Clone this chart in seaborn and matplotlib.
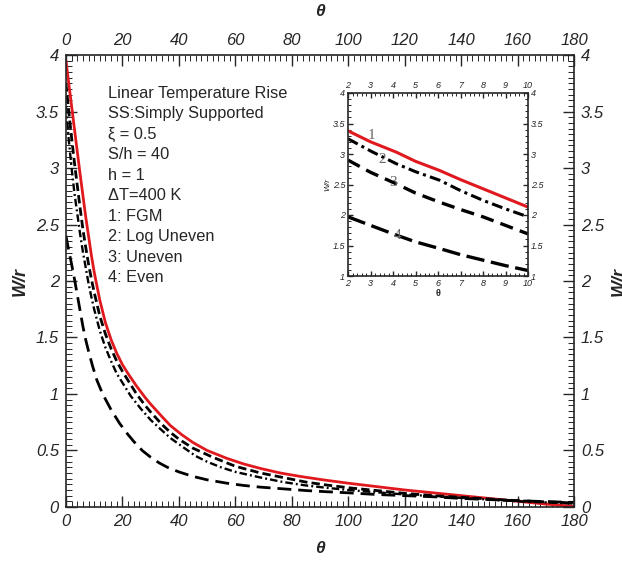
import matplotlib
matplotlib.use("Agg")
import matplotlib.pyplot as plt
from matplotlib.ticker import MultipleLocator
import pandas as pd
import seaborn as sns

# Main plot data (theta, W/r)
theta_fgm = [0, 1, 2, 3, 4, 5, 6, 7, 8, 9, 10, 12, 14, 16, 18, 20, 22, 25, 28, 30, 34, 37, 41,
             45, 50, 57, 63, 69, 76, 83, 91, 100, 110, 120, 130, 140, 150, 160, 170, 180]
w_fgm = [3.95, 3.75, 3.55, 3.35, 3.15, 2.95, 2.76, 2.57, 2.4, 2.23, 2.08, 1.83, 1.63, 1.48, 1.36,
         1.26, 1.18, 1.07, 0.97, 0.91, 0.8, 0.72, 0.64, 0.57, 0.5, 0.43, 0.38, 0.34, 0.3, 0.27,
         0.24, 0.21, 0.18, 0.15, 0.125, 0.1, 0.075, 0.05, 0.025, 0.005]

theta_dash = [0, 1, 2, 3, 4, 5, 6, 7, 8, 9, 10, 12, 14, 16, 18, 20, 22, 25, 28, 30, 34, 37, 40,
              45, 52, 60, 69, 77, 85, 92, 100, 110, 120, 130, 140, 150, 160, 170, 180]
w_dash = [3.75, 3.5, 3.27, 3.05, 2.85, 2.65, 2.46, 2.3, 2.15, 2.02, 1.9, 1.69, 1.53, 1.4, 1.29,
          1.2, 1.12, 1.0, 0.9, 0.84, 0.73, 0.66, 0.6, 0.52, 0.44, 0.36, 0.3, 0.26, 0.22, 0.195,
          0.17, 0.145, 0.12, 0.1, 0.085, 0.07, 0.055, 0.045, 0.035]

theta_dashdot = [0, 1, 2, 3, 4, 5, 6, 7, 8, 9, 10, 12, 14, 16, 18, 20, 23, 26.5, 30, 33, 37, 42,
                 46, 50, 55, 60, 69, 77, 85, 92, 100, 110, 120, 130, 140, 150, 160, 170, 180]
w_dashdot = [3.55, 3.25, 3.0, 2.78, 2.6, 2.42, 2.26, 2.12, 1.98, 1.86, 1.75, 1.56, 1.41, 1.29,
             1.18, 1.1, 0.98, 0.87, 0.77, 0.7, 0.61, 0.52, 0.45, 0.4, 0.35, 0.31, 0.26, 0.22,
             0.19, 0.17, 0.15, 0.13, 0.11, 0.095, 0.08, 0.065, 0.05, 0.04, 0.03]

theta_long = [0, 1, 2, 3, 4, 5, 6, 7, 8, 9.4, 11, 13, 16, 19, 22, 24, 27, 30, 33, 36, 40, 45,
              50, 57, 63, 69, 77, 85, 92, 100, 110, 120, 130, 140, 150, 160, 170, 180]
w_long = [2.4, 2.27, 2.15, 2.02, 1.88, 1.74, 1.6, 1.48, 1.38, 1.25, 1.12, 1.0, 0.86, 0.74, 0.64,
          0.58, 0.5, 0.44, 0.39, 0.35, 0.31, 0.27, 0.24, 0.21, 0.19, 0.175, 0.16, 0.145, 0.135,
          0.125, 0.11, 0.1, 0.09, 0.075, 0.065, 0.055, 0.047, 0.04]

# Inset data (theta 2..10)
theta_inset = [2, 3, 4.15, 5, 6.07, 7, 8, 9, 10]
w_in_fgm = [3.38, 3.2, 3.03, 2.88, 2.73, 2.58, 2.43, 2.28, 2.13]
w_in_log = [3.25, 3.05, 2.84, 2.71, 2.57, 2.4, 2.24, 2.1, 1.97]
w_in_uneven = [2.9, 2.7, 2.51, 2.36, 2.21, 2.09, 1.97, 1.83, 1.69]
w_in_even = [1.97, 1.83, 1.67, 1.56, 1.45, 1.35, 1.26, 1.17, 1.09]

annotation_lines = [
    "Linear Temperature Rise",
    "SS:Simply Supported",
    "\u03be = 0.5",
    "S/h = 40",
    "h = 1",
    "\u0394T=400 K",
    "1: FGM",
    "2: Log Uneven",
    "3: Uneven",
    "4: Even",
]

sns.set_style("ticks")
plt.rcParams["font.family"] = ["Liberation Sans", "DejaVu Sans"]

RED = "#e0191f"
MAIN_STYLES = {
    "fgm": dict(color=RED, linestyle="-", linewidth=2.0),
    "dash": dict(color="black", linestyle=(0, (3.0, 1.5)), linewidth=2.0),
    "dashdot": dict(color="black", linestyle=(0, (3.2, 1.3, 0.8, 1.3)), linewidth=1.7),
    "long": dict(color="black", linestyle=(0, (5.0, 2.5)), linewidth=2.0),
}
INSET_STYLES = {
    "fgm": dict(color=RED, linestyle="-", linewidth=2.2),
    "dash": dict(color="black", linestyle=(0, (4.0, 2.2)), linewidth=2.4),
    "dashdot": dict(color="black", linestyle=(0, (3.6, 1.4, 1.0, 1.4)), linewidth=2.2),
    "long": dict(color="black", linestyle=(0, (5.5, 2.0)), linewidth=2.4),
}


def draw(ax, x, y, style):
    df = pd.DataFrame({"theta": x, "w": y})
    sns.lineplot(data=df, x="theta", y="w", ax=ax, errorbar=None, sort=True, **style)


def style_axis(ax, xmaj, xmin, ymaj, ymin, size, maj_len, min_len, pad):
    ax.xaxis.set_major_locator(MultipleLocator(xmaj))
    ax.xaxis.set_minor_locator(MultipleLocator(xmin))
    ax.yaxis.set_major_locator(MultipleLocator(ymaj))
    ax.yaxis.set_minor_locator(MultipleLocator(ymin))
    ax.tick_params(which="both", direction="in", top=True, right=True,
                   labeltop=True, labelright=True)
    ax.tick_params(which="major", length=maj_len, width=1.0, labelsize=size, pad=pad)
    ax.tick_params(which="minor", length=min_len, width=0.7)
    for lab in ax.get_xticklabels() + ax.get_yticklabels():
        lab.set_fontstyle("italic")
    for sp in ax.spines.values():
        sp.set_linewidth(1.2)


def fmt(v, pos=None):
    return f"{v:g}"


fig = plt.figure(figsize=(6.22, 5.62), dpi=100)
ax = fig.add_axes([0.106, 0.098, 0.817, 0.804])

draw(ax, theta_fgm, w_fgm, MAIN_STYLES["fgm"])
draw(ax, theta_dash, w_dash, MAIN_STYLES["dash"])
draw(ax, theta_dashdot, w_dashdot, MAIN_STYLES["dashdot"])
draw(ax, theta_long, w_long, MAIN_STYLES["long"])

ax.set_xlim(0, 180)
ax.set_ylim(0, 4)
ax.xaxis.set_major_formatter(fmt)
ax.yaxis.set_major_formatter(fmt)
style_axis(ax, 20, 2, 0.5, 0.05, 12, 8, 4, 5)
ax.set_xlabel("\u03b8", fontsize=12.5, fontweight="bold", fontstyle="italic", labelpad=9)
ax.set_ylabel("W/r", fontsize=13, fontweight="bold", fontstyle="italic", labelpad=5)

# mirrored axis titles on top and right (right one runs off the edge as in the source)
fig.text(0.5 * (0.106 + 0.923), 1 - 12 / 562, "\u03b8", ha="center", va="center",
         fontsize=12.5, fontweight="bold", fontstyle="italic")
fig.text(611.0 / 622, 0.5, "W/r", ha="left", va="center", rotation=90,
         fontsize=13, fontweight="bold", fontstyle="italic")

y0 = 3.66
for i, line in enumerate(annotation_lines):
    ax.text(15, y0 - i * 0.181, line, fontsize=11.8, ha="left", va="center")

# Inset
ins = fig.add_axes([348 / 622, 1 - 276 / 562, 180 / 622, 183 / 562])
draw(ins, theta_inset, w_in_fgm, INSET_STYLES["fgm"])
draw(ins, theta_inset, w_in_log, INSET_STYLES["dashdot"])
draw(ins, theta_inset, w_in_uneven, INSET_STYLES["dash"])
draw(ins, theta_inset, w_in_even, INSET_STYLES["long"])
ins.set_xlim(2, 10)
ins.set_ylim(1, 4)
ins.xaxis.set_major_formatter(fmt)
ins.yaxis.set_major_formatter(fmt)
style_axis(ins, 1, 0.2, 0.5, 0.1, 6.5, 3.5, 2, 2)
ins.set_xlabel("\u03b8", fontsize=6.5, fontweight="bold", labelpad=1)
ins.set_ylabel("W/r", fontsize=6, fontstyle="italic", labelpad=1)

for lab, (tx, ty) in zip(["1", "2", "3", "4"], [(3.05, 3.31), (3.5, 2.91), (4.0, 2.54), (4.2, 1.67)]):
    ins.text(tx, ty, lab, fontsize=11, color="#666666", family=["Liberation Serif", "DejaVu Serif"],
             ha="center", va="center")

fig.savefig("out.png", dpi=100)
